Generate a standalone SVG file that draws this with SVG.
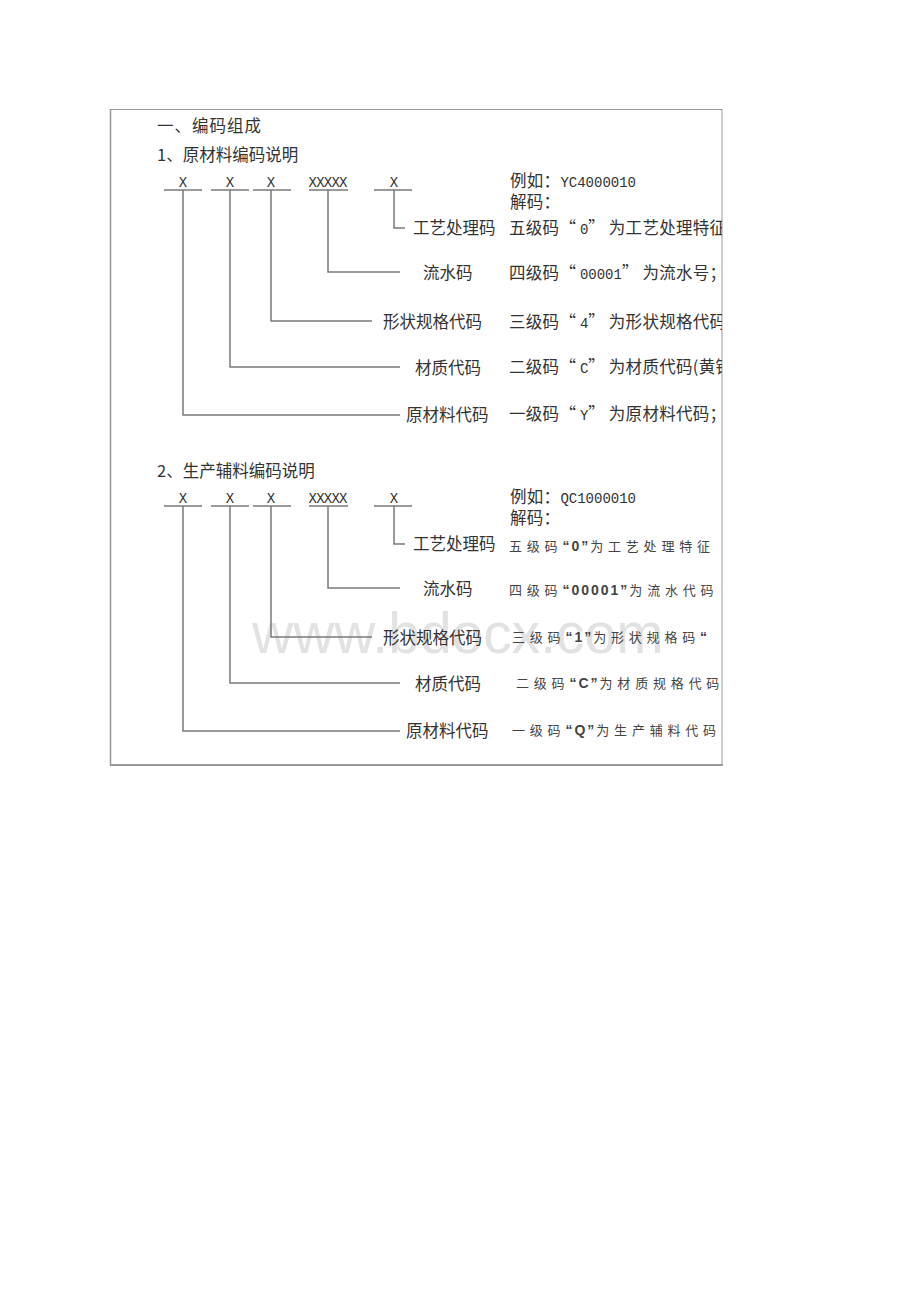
<svg xmlns="http://www.w3.org/2000/svg" width="920" height="1302" viewBox="0 0 920 1302">
<style>
.frame{stroke:#999;fill:none}
.ln{stroke:#7a7a7a;stroke-width:1.5;fill:none}
.h{font-family:"Noto Sans CJK SC","Liberation Sans",sans-serif;font-size:16.5px;fill:#333}
.x{font-family:"Liberation Mono",monospace;font-size:14px;fill:#333;text-anchor:middle}
.lbl{font-family:"Noto Sans CJK SC",sans-serif;font-size:16.5px;fill:#333}
.r1{font-family:"Noto Sans CJK SC",sans-serif;font-size:16.5px;fill:#333;letter-spacing:0.3px}
.m{font-family:"Liberation Mono","Noto Sans CJK SC",monospace;font-size:14px;letter-spacing:0}
.q{letter-spacing:4px}
.r2{font-family:"Noto Sans CJK SC",sans-serif;font-size:13px;fill:#444;letter-spacing:4.8px}
.b{font-family:"Liberation Sans",sans-serif;font-weight:bold;font-size:14px;letter-spacing:2px}
.wm{font-family:"Liberation Sans",Arial,sans-serif;font-size:57px;fill:#e2e2e2}
</style>
<defs>
<clipPath id="clip"><rect x="110" y="109" width="612" height="656"/></clipPath>
</defs>
<rect width="920" height="1302" fill="#fff"/>
<text class="wm" x="252" y="653">www.bdocx.com</text>
<g id="frame">
<line class="frame" x1="110" y1="109.5" x2="722" y2="109.5" stroke="#bbb"/>
<line class="frame" x1="110" y1="109.5" x2="155" y2="109.5" stroke="#888"/>
<line class="frame" x1="110.5" y1="109" x2="110.5" y2="766" stroke="#888" stroke-width="1.5"/>
<line class="frame" x1="722" y1="109" x2="722" y2="766" stroke="#aaa"/>
<line class="frame" x1="110" y1="765" x2="723" y2="765" stroke="#999" stroke-width="2"/>
</g>
<g id="headings">
<text class="h" x="157" y="132" style="letter-spacing:1px">一、编码组成</text>
<text class="h" x="157" y="161">1、原材料编码说明</text>
<text class="h" x="157" y="477">2、生产辅料编码说明</text>
</g>
<g id="connectors">
<g id="conn1">
<path class="ln" d="M164 190H202M211 190H249M253 190H291M309 190H348M374 190H412"/>
<path class="ln" d="M183 190V415H400"/>
<path class="ln" d="M230 190V367H400"/>
<path class="ln" d="M271 190V321H372"/>
<path class="ln" d="M328 190V272H400"/>
<path class="ln" d="M394 190V228H405"/>
</g>
<g id="conn2" transform="translate(0,316)">
<path class="ln" d="M164 190H202M211 190H249M253 190H291M309 190H348M374 190H412"/>
<path class="ln" d="M183 190V415H400"/>
<path class="ln" d="M230 190V367H400"/>
<path class="ln" d="M271 190V321H372"/>
<path class="ln" d="M328 190V272H400"/>
<path class="ln" d="M394 190V228H405"/>
</g>
</g>
<g id="section1">
<g id="s1-codes">
<text class="x" x="183" y="187">X</text>
<text class="x" x="230" y="187">X</text>
<text class="x" x="271" y="187">X</text>
<text class="x" x="328" y="187" textLength="39">XXXXX</text>
<text class="x" x="394" y="187">X</text>
</g>
<g id="s1-l5"><text class="lbl" x="413" y="234">工艺处理码</text></g>
<g id="s1-l4"><text class="lbl" x="423" y="279">流水码</text></g>
<g id="s1-l3"><text class="lbl" x="383" y="328">形状规格代码</text></g>
<g id="s1-l2"><text class="lbl" x="415" y="374">材质代码</text></g>
<g id="s1-l1"><text class="lbl" x="406" y="421">原材料代码</text></g>
<g id="s1-desc" clip-path="url(#clip)">
<text class="r1" x="510" y="187">例如：<tspan class="m">YC4000010</tspan></text>
<text class="r1" x="510" y="208">解码：</text>
<text class="r1" x="509" y="234">五级码<tspan class="q">“</tspan><tspan class="m">0</tspan><tspan class="q">”</tspan>为工艺处理特征</text>
<text class="r1" x="509" y="279">四级码<tspan class="q">“</tspan><tspan class="m">00001</tspan><tspan class="q">”</tspan>为流水号；</text>
<text class="r1" x="509" y="328">三级码<tspan class="q">“</tspan><tspan class="m">4</tspan><tspan class="q">”</tspan>为形状规格代码</text>
<text class="r1" x="509" y="373">二级码<tspan class="q">“</tspan><tspan class="m">C</tspan><tspan class="q">”</tspan>为材质代码(黄铜</text>
<text class="r1" x="509" y="420">一级码<tspan class="q">“</tspan><tspan class="m">Y</tspan><tspan class="q">”</tspan>为原材料代码；</text>
</g>
</g>
<g id="section2">
<g id="s2-codes">
<text class="x" x="183" y="503">X</text>
<text class="x" x="230" y="503">X</text>
<text class="x" x="271" y="503">X</text>
<text class="x" x="328" y="503" textLength="39">XXXXX</text>
<text class="x" x="394" y="503">X</text>
</g>
<g id="s2-l5"><text class="lbl" x="413" y="550">工艺处理码</text></g>
<g id="s2-l4"><text class="lbl" x="423" y="595">流水码</text></g>
<g id="s2-l3"><text class="lbl" x="383" y="644">形状规格代码</text></g>
<g id="s2-l2"><text class="lbl" x="415" y="690">材质代码</text></g>
<g id="s2-l1"><text class="lbl" x="406" y="737">原材料代码</text></g>
<g id="s2-desc" clip-path="url(#clip)">
<text class="r1" x="510" y="503">例如：<tspan class="m">QC1000010</tspan></text>
<text class="r1" x="510" y="524">解码：</text>
<text class="r2" x="509" y="551">五级码<tspan class="b">“0”</tspan>为工艺处理特征</text>
<text class="r2" x="509" y="595">四级码<tspan class="b">“00001”</tspan>为流水代码</text>
<text class="r2" x="512" y="642">三级码<tspan class="b">“1”</tspan>为形状规格码<tspan class="b">“</tspan></text>
<text class="r2" x="516" y="688">二级码<tspan class="b">“C”</tspan>为材质规格代码</text>
<text class="r2" x="512" y="735">一级码<tspan class="b">“Q”</tspan>为生产辅料代码</text>
</g>
</g>
</svg>
